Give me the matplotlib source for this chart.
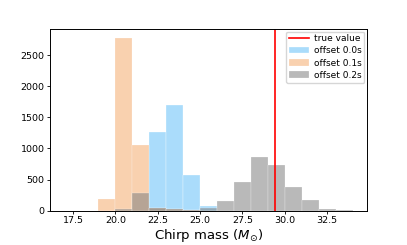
import matplotlib
matplotlib.use("Agg")
import matplotlib.pyplot as plt
import numpy as np

# bin edges (chirp mass, M_sun) shared by all three histograms
bin_edges = np.arange(17, 35)
bin_left = bin_edges[:-1]

# counts per bin
counts_00 = [0, 0, 0, 0, 0, 1260, 1690, 575, 80, 0, 0, 0, 0, 0, 0, 0, 0]
counts_01 = [0, 0, 190, 2780, 1050, 50, 25, 10, 0, 0, 0, 0, 0, 0, 0, 0, 0]
counts_02 = [0, 0, 0, 30, 285, 45, 25, 10, 40, 158, 453, 863, 737, 374, 168, 20, 5]

true_value = 29.4

fig = plt.figure(figsize=(4.07, 2.45), dpi=100)
ax = fig.add_axes([0.123, 0.14, 0.779, 0.742])

ax.hist(bin_left, bins=bin_edges, weights=counts_00, color='lightskyblue', alpha=0.7,
        edgecolor='white', linewidth=0.3, label='offset 0.0s')
ax.hist(bin_left, bins=bin_edges, weights=counts_01, color='sandybrown', alpha=0.5,
        edgecolor='white', linewidth=0.3, label='offset 0.1s')
ax.hist(bin_left, bins=bin_edges, weights=counts_02, color='gray', alpha=0.55,
        edgecolor='white', linewidth=0.3, label='offset 0.2s')
ax.axvline(true_value, color='red', lw=1.2, label='true value')

ax.set_xticks([17.5, 20.0, 22.5, 25.0, 27.5, 30.0, 32.5])
ax.set_yticks([0, 500, 1000, 1500, 2000, 2500])
ax.tick_params(labelsize=6.8, length=2.5, width=0.6, pad=1.5)
for s in ax.spines.values():
    s.set_linewidth(0.7)
ax.set_xlabel(r'Chirp mass ($M_{\odot}$)', fontsize=9.5)
ax.xaxis.set_label_coords(0.5125, 0.004, transform=fig.transFigure)
ax.xaxis.label.set_va('bottom')

handles, labels = ax.get_legend_handles_labels()
order = [3, 0, 1, 2]
ax.legend([handles[i] for i in order], [labels[i] for i in order], loc='upper right',
          fontsize=6.5, handlelength=2.2, handletextpad=0.6, borderaxespad=0.3,
          borderpad=0.3, labelspacing=0.35)

fig.savefig('out.png', dpi=100)
